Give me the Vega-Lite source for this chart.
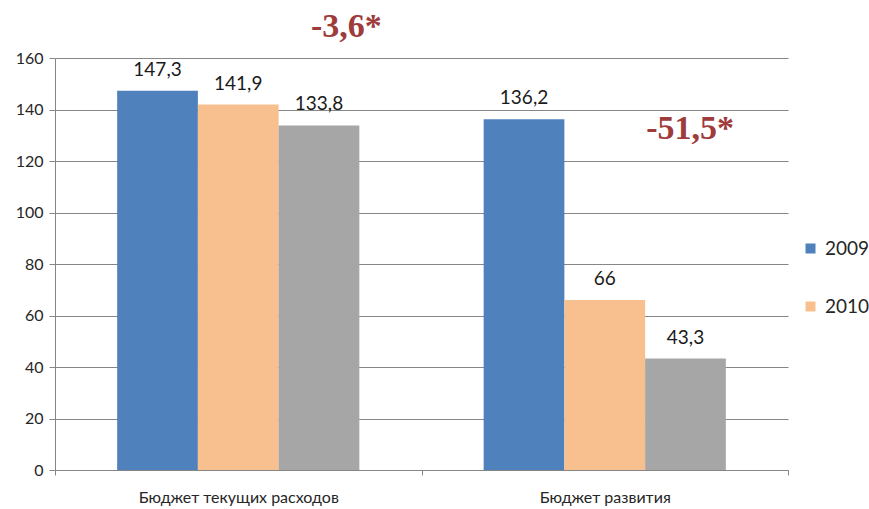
{
  "$schema": "https://vega.github.io/schema/vega-lite/v6.json",
  "width": 733,
  "height": 412,
  "autosize": {"type": "none"},
  "padding": {"left": 55, "top": 58, "right": 81, "bottom": 39},
  "background": "white",
  "config": {
    "view": {"stroke": null},
    "locale": {"number": {"decimal": ",", "thousands": " ", "grouping": [3], "currency": ["", ""]}},
    "axis": {"domainColor": "#868686", "tickColor": "#868686", "gridColor": "#868686", "labelFont": "Lato", "labelColor": "#262626"}
  },
  "data": {
    "values": [
      {"category": "Бюджет текущих расходов", "series": "2009", "value": 147.3},
      {"category": "Бюджет текущих расходов", "series": "2010", "value": 141.9},
      {"category": "Бюджет текущих расходов", "series": "2011", "value": 133.8},
      {"category": "Бюджет развития", "series": "2009", "value": 136.2},
      {"category": "Бюджет развития", "series": "2010", "value": 66},
      {"category": "Бюджет развития", "series": "2011", "value": 43.3}
    ]
  },
  "encoding": {
    "x": {
      "field": "category", "type": "nominal",
      "sort": ["Бюджет текущих расходов", "Бюджет развития"],
      "scale": {"paddingInner": 0, "paddingOuter": 0},
      "axis": {"title": null, "labelAngle": 0, "labelLimit": 0, "tickBand": "extent", "tickSize": 5, "labelPadding": 14, "labelFontSize": 16, "domainWidth": 1}
    }
  },
  "layer": [
    {
      "mark": {"type": "bar"},
      "encoding": {
        "xOffset": {"field": "series", "type": "nominal", "scale": {"domain": ["2009", "2010", "2011"], "paddingInner": 0, "paddingOuter": 0.77}},
        "y": {
          "field": "value", "type": "quantitative",
          "scale": {"domain": [0, 160], "nice": false},
          "axis": {"title": null, "values": [0, 20, 40, 60, 80, 100, 120, 140, 160], "grid": true, "tickSize": 6, "labelPadding": 6, "labelFontSize": 16, "domain": true}
        },
        "color": {
          "field": "series", "type": "nominal",
          "scale": {"domain": ["2009", "2010", "2011"], "range": ["#4F81BD", "#F9C08F", "#A6A6A6"]},
          "legend": {
            "values": ["2009", "2010"], "title": null, "orient": "none", "legendX": 746, "legendY": 181,
            "symbolType": "square", "symbolSize": 100, "symbolStrokeWidth": 0, "labelFont": "Lato", "labelFontSize": 19, "labelColor": "#262626",
            "labelOffset": 5, "rowPadding": 38, "padding": 0
          }
        }
      }
    },
    {
      "mark": {"type": "text", "baseline": "alphabetic", "dy": -15, "font": "Lato", "fontSize": 19, "color": "#1a1a1a"},
      "encoding": {
        "xOffset": {"field": "series", "type": "nominal"},
        "y": {"field": "value", "type": "quantitative"},
        "text": {"field": "value", "type": "quantitative", "format": "~r"}
      }
    },
    {
      "data": {"values": [{"category": "Бюджет текущих расходов", "pos": 168, "note": "-3,6*"}]},
      "mark": {"type": "text", "baseline": "alphabetic", "align": "center", "font": "Liberation Serif", "fontWeight": "bold", "fontSize": 34, "color": "#9E3B3B"},
      "encoding": {
        "x": {"field": "category", "type": "nominal", "bandPosition": 0.795},
        "y": {"field": "pos", "type": "quantitative"},
        "text": {"field": "note"}
      }
    },
    {
      "data": {"values": [{"category": "Бюджет развития", "pos": 128.5, "note": "-51,5*"}]},
      "mark": {"type": "text", "baseline": "alphabetic", "align": "center", "font": "Liberation Serif", "fontWeight": "bold", "fontSize": 34, "color": "#9E3B3B"},
      "encoding": {
        "x": {"field": "category", "type": "nominal", "bandPosition": 0.733},
        "y": {"field": "pos", "type": "quantitative"},
        "text": {"field": "note"}
      }
    }
  ]
}
